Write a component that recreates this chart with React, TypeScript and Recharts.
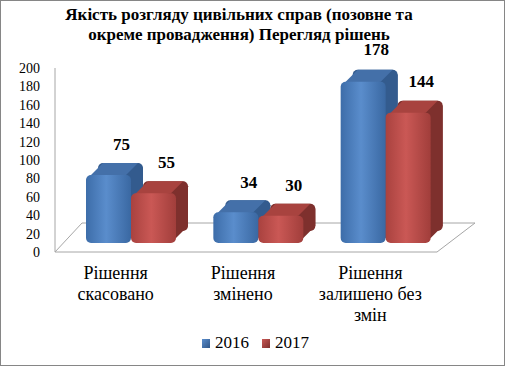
import React from 'react'
import { BarChart, Bar, XAxis, YAxis, LabelList, Customized } from 'recharts'

const categories = ['Рішення скасовано', 'Рішення змінено', 'Рішення залишено без змін']
const categoryLines = [
  ['Рішення', 'скасовано'],
  ['Рішення', 'змінено'],
  ['Рішення', 'залишено без', 'змін'],
]
const values2016 = [75, 34, 178]
const values2017 = [55, 30, 144]
const yTicks = [0, 20, 40, 60, 80, 100, 120, 140, 160, 180, 200]
const seriesNames = ['2016', '2017']
const titleLines = ['Якість розгляду цивільних справ (позовне та', 'окреме провадження) Перегляд рішень']

const data = categories.map((name, i) => ({ name, y2016: values2016[i], y2017: values2017[i] }))

const FONT = "'Liberation Serif', 'DejaVu Serif', serif"
const W = 505
const H = 366
const PLOT_LEFT = 55
const PLOT_RIGHT = 437
const PLOT_TOP = 68
const PLOT_BOTTOM = 252
// 3d projection of the bars / floor
const SHIFT_X = 12
const DROP = 9
const DEPTH = 12
const R = 5

const palettes = {
  blue: { id: 'gBlue', top: '#4470A9', side: '#335B8E', edge: ['#3D6DA9', '#5A8DCC', '#3A68A2'] },
  red: { id: 'gRed', top: '#A8433F', side: '#7E302D', edge: ['#A9423F', '#CA5855', '#A13E3B'] },
}

function make3DBar(p: typeof palettes.blue) {
  return (props: any) => {
    const { x, y, width, height } = props
    if (!height || height <= 0) return <g />
    const h = height * 0.984
    const fx = x + SHIFT_X
    const bottom = y + height - DROP
    const fy = bottom - h
    const w = width
    const sidePts = [
      [fx + w - R, fy],
      [fx + w + DEPTH - R, fy - DEPTH],
      [fx + w + DEPTH, fy - DEPTH + R],
      [fx + w + DEPTH, bottom - DEPTH - R],
      [fx + w, bottom - R],
      [fx + w - R, bottom - R],
    ]
    const topPts = [
      [fx, fy + R],
      [fx + DEPTH, fy - DEPTH + R],
      [fx + DEPTH + R, fy - DEPTH],
      [fx + w + DEPTH - R, fy - DEPTH],
      [fx + w - R, fy],
      [fx + R, fy + R],
    ]
    return (
      <g>
        <rect x={fx + DEPTH} y={fy - DEPTH} width={w} height={h} rx={R} fill={p.side} />
        <polygon points={sidePts.map((q) => q.join(',')).join(' ')} fill={p.side} />
        <polygon points={topPts.map((q) => q.join(',')).join(' ')} fill={p.top} />
        <rect x={fx} y={fy} width={w} height={h} rx={R} fill={`url(#${p.id})`} />
      </g>
    )
  }
}

const Floor = () => {
  const back = PLOT_BOTTOM - 29
  const pts = [
    [PLOT_LEFT, PLOT_BOTTOM],
    [PLOT_RIGHT, PLOT_BOTTOM],
    [PLOT_RIGHT + 38, back],
    [PLOT_LEFT + 27, back],
    [PLOT_LEFT, PLOT_BOTTOM],
  ]
  return <polyline points={pts.map((q) => q.join(',')).join(' ')} fill="none" stroke="#a6a6a6" strokeWidth={1} />
}

const CategoryTick = (props: any) => {
  const { x, y, payload } = props
  const idx = categories.indexOf(payload.value)
  const lines = idx >= 0 ? categoryLines[idx] : [String(payload.value)]
  return (
    <text x={x - 3} y={y} textAnchor="middle" style={{ fontFamily: FONT }} fontSize={18} fill="#000">
      {lines.map((l, i) => (
        <tspan key={i} x={x - 3} dy={i === 0 ? 19 : 21}>
          {l}
        </tspan>
      ))}
    </text>
  )
}

const renderValue = (props: any) => {
  const { x, y, width, value } = props
  return (
    <text x={x + width / 2 + 25} y={y - 33} textAnchor="middle" style={{ fontFamily: FONT }} fontWeight="bold" fontSize={17} fill="#000">
      {value}
    </text>
  )
}

const Swatch = ({ id }: { id: string }) => (
  <svg width={8} height={9} style={{ display: 'block' }}>
    <rect x={0} y={0} width={8} height={9} fill={`url(#${id}L)`} />
  </svg>
)

export default function App() {
  return (
    <div
      style={{
        position: 'absolute',
        left: 0,
        top: 0,
        width: W,
        height: H,
        boxSizing: 'border-box',
        border: '1px solid #868686',
        background: '#fff',
        fontFamily: FONT,
      }}
    >
      <div
        style={{
          position: 'absolute',
          left: 0,
          top: 4,
          width: 476,
          textAlign: 'center',
          fontWeight: 'bold',
          fontSize: 17,
          lineHeight: '20px',
          color: '#000',
        }}
      >
        {titleLines[0]}
        <br />
        {titleLines[1]}
      </div>
      <div style={{ position: 'absolute', left: -1, top: -1 }}>
        <BarChart
          width={W}
          height={H}
          data={data}
          margin={{ top: PLOT_TOP, right: W - PLOT_RIGHT, bottom: H - PLOT_BOTTOM - 60, left: 0 }}
          barSize={45}
          barGap={0}
        >
          <defs>
            {Object.values(palettes).map((p) => (
              <linearGradient key={p.id} id={p.id} x1="0" y1="0" x2="1" y2="0">
                <stop offset="0" stopColor={p.edge[0]} />
                <stop offset="0.45" stopColor={p.edge[1]} />
                <stop offset="1" stopColor={p.edge[2]} />
              </linearGradient>
            ))}
          </defs>
          <Customized component={Floor} />
          <XAxis dataKey="name" tick={<CategoryTick />} tickLine={false} axisLine={false} interval={0} height={60} />
          <YAxis
            domain={[0, 200]}
            ticks={yTicks}
            interval={0}
            width={PLOT_LEFT}
            tickLine={false}
            tickMargin={9}
            axisLine={{ stroke: '#a6a6a6' }}
            tick={{ fontSize: 14, fill: '#000', style: { fontFamily: FONT } }}
          />
          <Bar dataKey="y2016" name={seriesNames[0]} fill="#4F81BD" shape={make3DBar(palettes.blue)} isAnimationActive={false}>
            <LabelList dataKey="y2016" content={renderValue} />
          </Bar>
          <Bar dataKey="y2017" name={seriesNames[1]} fill="#C0504D" shape={make3DBar(palettes.red)} isAnimationActive={false}>
            <LabelList dataKey="y2017" content={renderValue} />
          </Bar>
        </BarChart>
      </div>
      <svg width={0} height={0} style={{ position: 'absolute' }}>
        <defs>
          <linearGradient id="gBlueL" x1="0" y1="0" x2="1" y2="1">
            <stop offset="0" stopColor="#5A8DCC" />
            <stop offset="1" stopColor="#2F5688" />
          </linearGradient>
          <linearGradient id="gRedL" x1="0" y1="0" x2="1" y2="1">
            <stop offset="0" stopColor="#CA5855" />
            <stop offset="1" stopColor="#7E302D" />
          </linearGradient>
        </defs>
      </svg>
      <div
        style={{
          position: 'absolute',
          left: 201,
          top: 332,
          display: 'flex',
          alignItems: 'center',
          fontSize: 17,
          lineHeight: '20px',
          color: '#000',
        }}
      >
        <Swatch id="gBlue" />
        <span style={{ marginLeft: 5, marginRight: 13 }}>{seriesNames[0]}</span>
        <Swatch id="gRed" />
        <span style={{ marginLeft: 5 }}>{seriesNames[1]}</span>
      </div>
    </div>
  )
}
